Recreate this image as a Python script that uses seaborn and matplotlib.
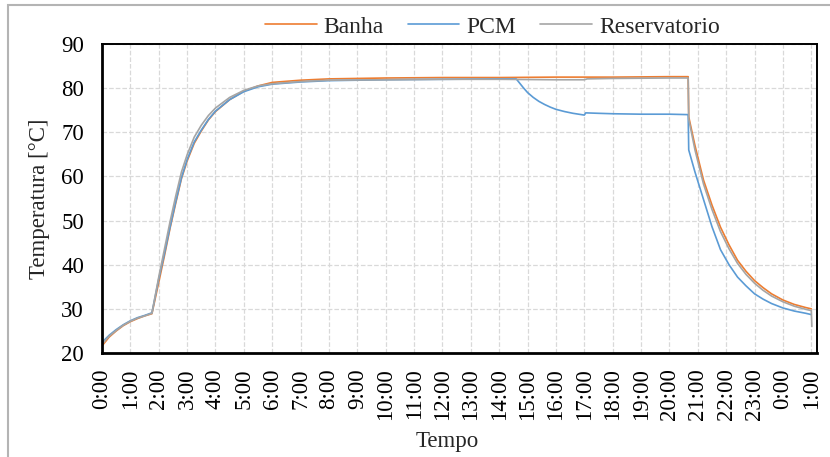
import pandas as pd
import matplotlib.pyplot as plt
import seaborn as sns
from matplotlib.patches import Rectangle

# hours since start
banha_t = [0, 0.25, 0.5, 0.75, 1.0, 1.25, 1.5, 1.76, 2.0, 2.2, 2.4, 2.6, 2.8, 3.0, 3.25, 3.5,
           3.75, 4.0, 4.5, 5.0, 5.5, 6.0, 7.0, 8.0, 10.0, 12.0, 14.0, 16.0, 18.0, 20.0, 20.66,
           20.68, 20.9, 21.2, 21.5, 21.8, 22.1, 22.4, 22.7, 23.0, 23.3, 23.6, 24.0, 24.4, 24.8, 25.0]
banha_v = [21.6, 23.6, 25.0, 26.2, 27.1, 27.8, 28.4, 28.9, 36.0, 42.0, 48.3, 54.0, 59.5, 63.5, 67.5, 70.3,
           72.8, 74.7, 77.4, 79.3, 80.5, 81.3, 81.8, 82.1, 82.3, 82.4, 82.4, 82.5, 82.5, 82.6, 82.6,
           73.5, 67.0, 59.2, 53.5, 48.5, 44.5, 41.0, 38.5, 36.4, 34.8, 33.4, 32.0, 31.0, 30.3, 30.0]

pcm_t = [0, 0.25, 0.5, 0.75, 1.0, 1.25, 1.5, 1.76, 2.0, 2.2, 2.4, 2.6, 2.8, 3.0, 3.25, 3.5,
         3.75, 4.0, 4.5, 5.0, 5.5, 6.0, 7.0, 8.0, 10.0, 12.0, 14.0, 14.6, 14.7, 14.85, 15.0, 15.2,
         15.4, 15.6, 15.8, 16.0, 16.3, 16.6, 17.0, 17.05, 17.5, 18.0, 19.0, 20.0, 20.66, 20.68,
         20.9, 21.2, 21.5, 21.8, 22.1, 22.4, 22.7, 23.0, 23.3, 23.6, 24.0, 24.4, 24.8, 25.0]
pcm_v = [22.4, 24.0, 25.3, 26.4, 27.3, 28.0, 28.5, 29.1, 36.8, 42.5, 48.6, 54.3, 59.7, 63.8, 67.8, 70.5,
         72.9, 74.8, 77.4, 79.2, 80.3, 80.9, 81.4, 81.7, 81.9, 82.0, 82.1, 82.1, 81.3, 80.1, 79.0, 77.9,
         77.0, 76.3, 75.7, 75.2, 74.7, 74.3, 73.9, 74.4, 74.3, 74.2, 74.1, 74.1, 74.0, 66.0,
         61.0, 54.8, 48.6, 43.4, 40.0, 37.2, 35.2, 33.4, 32.2, 31.2, 30.2, 29.5, 29.0, 28.7]

res_t = [0, 0.25, 0.5, 0.75, 1.0, 1.25, 1.5, 1.76, 2.0, 2.2, 2.4, 2.6, 2.8, 3.0, 3.25, 3.5,
         3.75, 4.0, 4.5, 5.0, 5.5, 6.0, 7.0, 8.0, 10.0, 12.0, 14.0, 16.0, 17.0, 17.1, 18.0, 20.0,
         20.66, 20.68, 20.9, 21.2, 21.5, 21.8, 22.1, 22.4, 22.7, 23.0, 23.3, 23.6, 24.0, 24.4,
         24.8, 25.0, 25.02]
res_v = [22.0, 23.8, 25.1, 26.3, 27.2, 27.9, 28.4, 29.0, 37.2, 43.5, 49.8, 55.6, 61.0, 64.9, 68.9, 71.6,
         73.8, 75.5, 77.9, 79.5, 80.5, 81.0, 81.5, 81.8, 81.9, 82.0, 82.0, 81.9, 81.9, 82.1, 82.2, 82.3,
         82.3, 73.0, 66.0, 58.3, 52.5, 47.5, 43.6, 40.3, 37.8, 35.8, 34.2, 32.9, 31.6, 30.6,
         29.9, 29.6, 26.0]

series_names = ["Banha", "PCM", "Reservatorio"]
series_colors = ["#ED7D31", "#5B9BD5", "#A5A5A5"]
tick_labels = ["0:00", "1:00", "2:00", "3:00", "4:00", "5:00", "6:00", "7:00", "8:00", "9:00",
               "10:00", "11:00", "12:00", "13:00", "14:00", "15:00", "16:00", "17:00", "18:00",
               "19:00", "20:00", "21:00", "22:00", "23:00", "0:00", "1:00"]
y_ticks = [20, 30, 40, 50, 60, 70, 80, 90]

df = pd.concat([
    pd.DataFrame({"Tempo": banha_t, "Temperatura": banha_v, "serie": "Banha"}),
    pd.DataFrame({"Tempo": pcm_t, "Temperatura": pcm_v, "serie": "PCM"}),
    pd.DataFrame({"Tempo": res_t, "Temperatura": res_v, "serie": "Reservatorio"}),
], ignore_index=True)

sns.set_theme(style="white")
plt.rcParams['font.family'] = ['Liberation Serif', 'DejaVu Serif']
fs = 16.5

fig = plt.figure(figsize=(8.3, 4.57), dpi=100)
ax = fig.add_axes([0.1229, 0.2276, 0.8614, 0.6761])

sns.lineplot(data=df, x="Tempo", y="Temperatura", hue="serie", hue_order=series_names,
             palette=series_colors, estimator=None, sort=False, linewidth=1.2, ax=ax)

ax.set_xlim(0, 25.2)
ax.set_ylim(20, 90)
ax.set_xticks(range(len(tick_labels)))
ax.set_xticklabels(tick_labels, rotation=90)
ax.set_yticks(y_ticks)
ax.tick_params(axis='both', length=0, labelsize=fs, colors='black')
ax.tick_params(axis='y', pad=13)
ax.tick_params(axis='x', pad=11)

ax.grid(True, color='#d9d9d9', linestyle='--', linewidth=0.9)
for side, sp in ax.spines.items():
    sp.set_color('black')
    sp.set_linewidth(2.0 if side in ('left', 'bottom') else 1.4)

ax.set_xlabel("Tempo", fontsize=fs)
ax.xaxis.set_label_coords(0.4825, -0.288)
ax.xaxis.label.set_va('center')
ax.set_ylabel("Temperatura [°C]", fontsize=fs)
ax.yaxis.set_label_coords(-0.088, 0.5)
ax.yaxis.label.set_va('center')

ax.legend(title=None, loc='center', bbox_to_anchor=(0.593, 0.941),
          bbox_transform=fig.transFigure, ncol=3, frameon=False,
          handlelength=2.2, columnspacing=1.0, handletextpad=0.3, fontsize=17)

# chart area border (cut at the right and bottom)
fig.patches.append(Rectangle((8 / 830, -0.2), 1.2, 1.2 - 5 / 457,
                             transform=fig.transFigure, fill=False,
                             edgecolor='#b4b4b4', linewidth=1.5))

fig.savefig("out.png", dpi=100)
